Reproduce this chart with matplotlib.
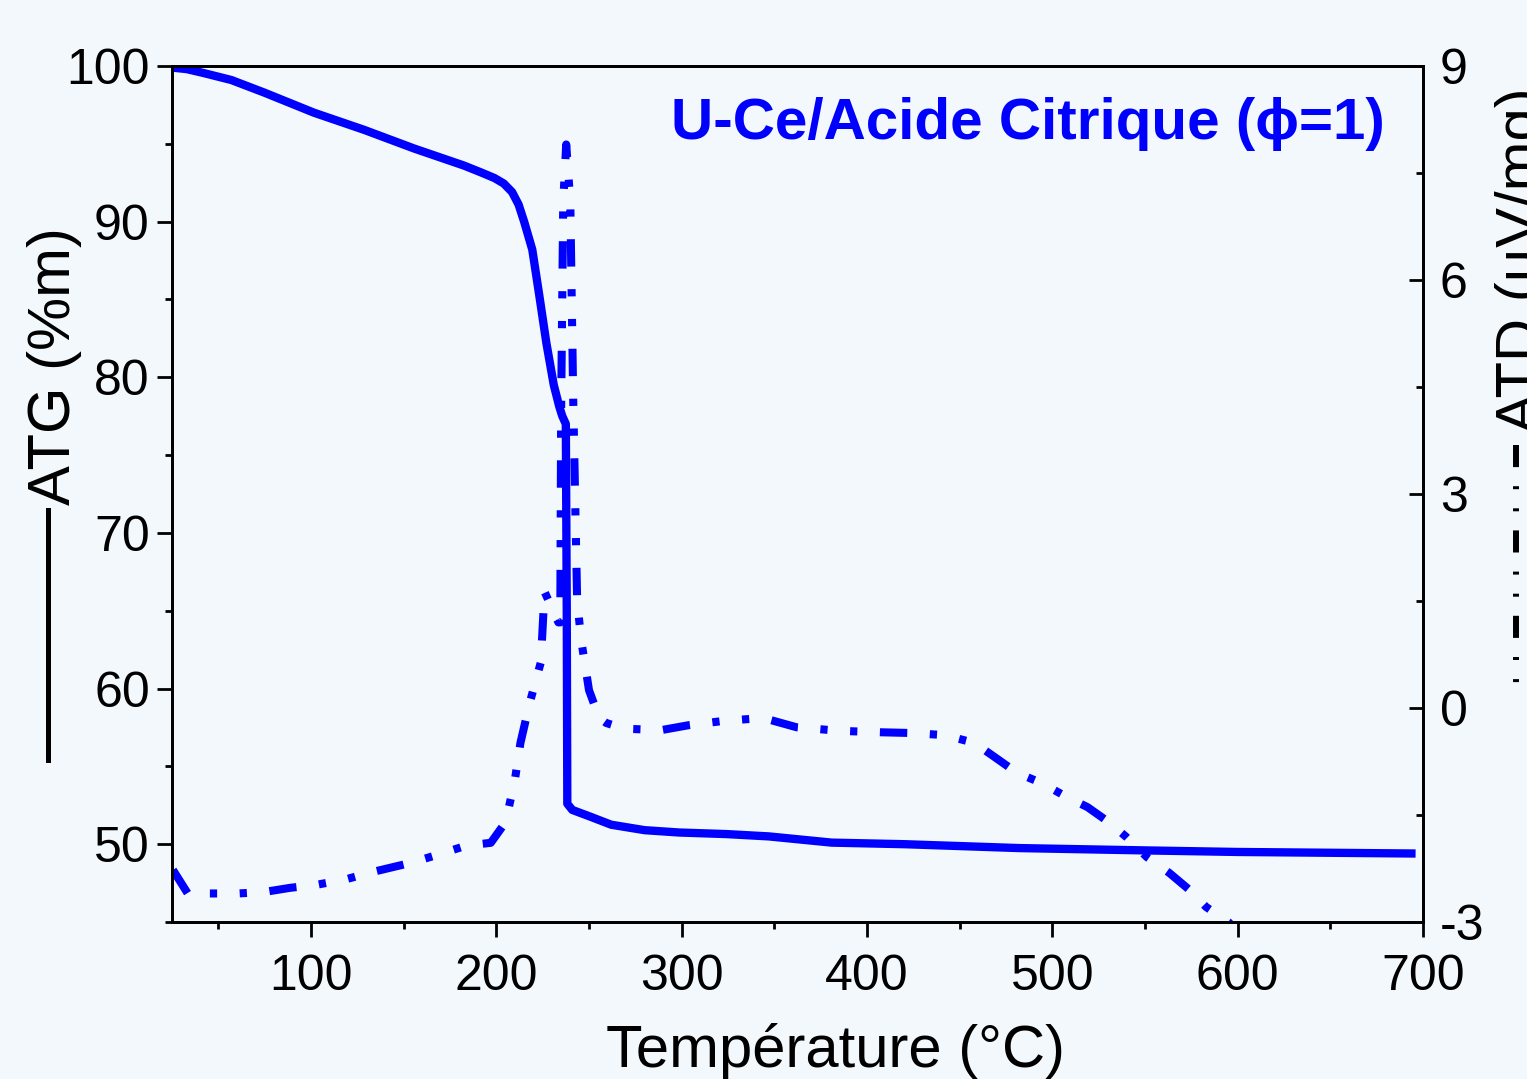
import numpy as np
import matplotlib.pyplot as plt
from matplotlib.lines import Line2D
from matplotlib.ticker import MultipleLocator

plt.rcParams['font.family'] = ['Liberation Sans', 'DejaVu Sans']
plt.rcParams['axes.unicode_minus'] = False

# ATG (left axis), mass %
tga_T = [25, 33, 42, 57, 74.6, 101.6, 128.6, 155.6, 182.6, 192, 199, 204, 208.5, 212,
         215, 219.4, 223, 227, 231, 234, 235.6, 237.5, 238.0, 238.3, 241, 250, 262, 280,
         298.7, 324, 347, 381, 420, 482, 550, 600, 696]
tga_m = [99.9, 99.8, 99.55, 99.1, 98.3, 97.0, 95.9, 94.7, 93.6, 93.15, 92.8, 92.45, 91.9, 91.1,
         90.0, 88.2, 85.4, 82.2, 79.5, 78.1, 77.5, 77.0, 65.0, 52.6, 52.2, 51.8, 51.25, 50.9,
         50.75, 50.65, 50.5, 50.1, 50.0, 49.75, 49.6, 49.5, 49.4]

# ATD (right axis), uV/mg
dta_T = [25.5, 33.5, 45, 60.6, 74.6, 89, 102.7, 119, 133, 154, 168, 183.7, 197, 205,
         210, 213, 218, 224, 226, 233.5, 234.5, 235, 236.1, 237.7, 239.9, 241.5, 243.6,
         245.8, 250, 255.5, 259.3, 269, 289, 304, 323, 344, 362, 385, 407, 423, 442,
         458, 469, 481, 494, 508, 519, 531, 540, 551, 563, 574, 583, 595, 610]
dta_v = [-2.27, -2.6, -2.6, -2.6, -2.58, -2.52, -2.48, -2.4, -2.3, -2.17, -2.06, -1.93,
         -1.89, -1.6, -1.01, -0.49, 0.07, 0.64, 1.63, 1.2, 1.2, 4.3, 7.1, 7.9, 7.1,
         4.3, 1.51, 0.95, 0.25, -0.14, -0.21, -0.29, -0.31, -0.24, -0.18, -0.14, -0.27,
         -0.32, -0.34, -0.35, -0.38, -0.49, -0.69, -0.91, -1.05, -1.25, -1.39, -1.61,
         -1.81, -2.09, -2.31, -2.55, -2.79, -3.0, -3.4]

blue = '#0000ff'
bg = '#f3f8fc'

fig = plt.figure(figsize=(15.27, 10.79), dpi=100, facecolor=bg)
ax = fig.add_axes([172/1527, 1 - 922/1079, (1423-172)/1527, (922-66)/1079])
ax.set_facecolor(bg)
ax2 = ax.twinx()

ax.plot(tga_T, tga_m, color=blue, lw=6.0, solid_capstyle='butt',
        solid_joinstyle='round', zorder=3)
ax2.plot(dta_T, dta_v, color=blue, lw=5.8,
         linestyle=(0, (3.4, 2.8, 0.9, 2.8, 0.9, 2.8)), zorder=2)

ax.set_xlim(25, 700)
ax.set_ylim(45, 100)
ax2.set_ylim(-3, 9)

ax.xaxis.set_minor_locator(MultipleLocator(50))
ax.yaxis.set_minor_locator(MultipleLocator(5))
ax2.yaxis.set_minor_locator(MultipleLocator(1.5))
ax.set_xticks([100, 200, 300, 400, 500, 600, 700])
ax.set_yticks([50, 60, 70, 80, 90, 100])
ax2.set_yticks([-3, 0, 3, 6, 9])

for a in (ax, ax2):
    for s in a.spines.values():
        s.set_linewidth(2.0)
ax.tick_params(axis='both', which='major', length=11, width=2.0, labelsize=36,
               direction='out', pad=5)
ax.tick_params(axis='x', which='major', pad=12)
ax.tick_params(axis='both', which='minor', length=5, width=2.0, direction='out')
ax2.tick_params(axis='y', which='major', length=10, width=2.0, labelsize=36,
                direction='in', pad=12)
ax2.tick_params(axis='y', which='minor', length=5, width=2.0, direction='in')

fig.text(836/1527, 1 - 1067/1079, 'Température (°C)', ha='center', va='baseline', fontsize=43)

ax.text(0.9696, 0.932, 'U-Ce/Acide Citrique (ϕ=1)', transform=ax.transAxes,
        ha='right', va='center', fontsize=42, fontweight='bold', color=blue)

# left axis label with line key
fig.text(55/1527, 1 - 505/1079, 'ATG (%m)', rotation=90, ha='center', va='bottom', fontsize=43)
fig.add_artist(Line2D([48/1527, 48/1527], [1 - 510/1079, 1 - 760/1079],
                      transform=fig.transFigure, color='black', lw=3.6))

# right axis label with line key
fig.text(1523/1527, 1 - 433/1079, 'ATD (µV/mg)', rotation=90, ha='center', va='bottom', fontsize=43)
fig.add_artist(Line2D([1516/1527, 1516/1527], [1 - 445/1079, 1 - 690/1079],
                      transform=fig.transFigure, color='black', lw=4.3,
                      linestyle=(0, (3.7, 3.2, 0.5, 3.2, 0.5, 3.2))))

fig.savefig('out.png', dpi=100, facecolor=bg)
